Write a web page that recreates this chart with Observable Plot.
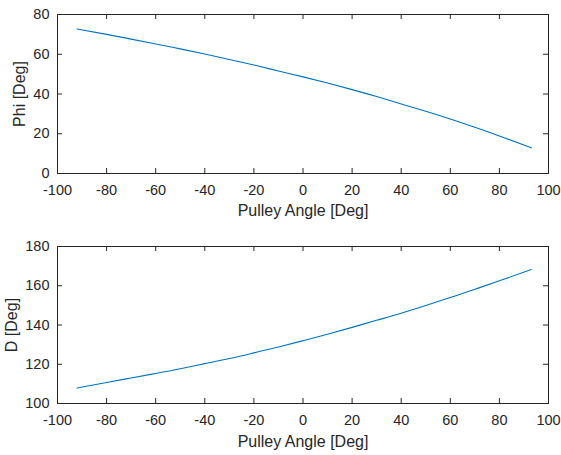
<!DOCTYPE html>
<html>
<head>
<meta charset="utf-8">
<script src="https://cdn.jsdelivr.net/npm/d3@7"></script>
<script src="https://cdn.jsdelivr.net/npm/@observablehq/plot@0.6"></script>
<style>
  html, body { margin: 0; padding: 0; background: #fff; }
  #chart svg { display: block; }
</style>
</head>
<body>
<div id="chart"></div>
<script>
const pulleyAngle = [-92, -80, -70, -60, -50, -40, -30, -20, -10, 0, 10, 20, 30, 40, 50, 60, 70, 80, 93];
const phi = [72.7, 70.0, 67.6, 65.2, 62.7, 60.1, 57.4, 54.6, 51.6, 48.6, 45.5, 42.2, 38.7, 35.0, 31.3, 27.4, 23.3, 18.9, 12.9];
const dAngle = [107.9, 110.7, 113.0, 115.3, 117.7, 120.3, 122.9, 125.8, 128.8, 132.0, 135.3, 138.8, 142.4, 146.0, 149.9, 154.0, 158.2, 162.5, 168.3];
const xTicks = [-100, -80, -60, -40, -20, 0, 20, 40, 60, 80, 100];
const phiTicks = [0, 20, 40, 60, 80];
const dTicks = [100, 120, 140, 160, 180];

const ink = "#262626";
const lineColor = "#0072BD";
const W = 561, ML = 57, MR = 13, TICK = 5;

function panel(yValues, yDomain, yTicks, yLabel, height, marginTop, marginBottom, yLabelOffset, xLabelOffset) {
  const data = pulleyAngle.map((x, i) => ({x, y: yValues[i]}));
  const fh = height - marginTop - marginBottom;
  const fw = W - ML - MR;
  return Plot.plot({
    width: W,
    height,
    marginTop,
    marginBottom,
    marginLeft: ML,
    marginRight: MR,
    style: {fontFamily: "'Liberation Sans', Arial, sans-serif", fontSize: "14.5px", color: ink, background: "#fff"},
    x: {domain: [-100, 100]},
    y: {domain: yDomain},
    marks: [
      Plot.axisX({anchor: "bottom", ticks: xTicks, tickSize: 0, tickPadding: 11, fontSize: 14.5,
        tickFormat: d => String(d),
        label: "Pulley Angle [Deg]", labelAnchor: "center", labelArrow: "none", labelOffset: xLabelOffset}),
      Plot.axisY({anchor: "left", ticks: yTicks, tickSize: 0, tickPadding: 8, fontSize: 14.5,
        tickFormat: d => String(d),
        label: yLabel, labelAnchor: "center", labelArrow: "none", labelOffset: yLabelOffset}),
      Plot.tickX(xTicks, {x: d => d, stroke: ink, insetTop: fh - TICK}),
      Plot.tickX(xTicks, {x: d => d, stroke: ink, insetBottom: fh - TICK}),
      Plot.tickY(yTicks, {y: d => d, stroke: ink, insetRight: fw - TICK}),
      Plot.tickY(yTicks, {y: d => d, stroke: ink, insetLeft: fw - TICK}),
      Plot.frame({stroke: ink, strokeWidth: 1}),
      Plot.line(data, {x: "x", y: "y", stroke: lineColor, strokeWidth: 1.1, curve: "natural"})
    ]
  });
}

const topPanel = panel(phi, [0, 80], phiTicks, "Phi [Deg]", 228, 14, 55, 44, 42);
const bottomPanel = panel(dAngle, [100, 180], dTicks, "D [Deg]", 227, 18, 52, 52, 43);
const root = document.getElementById("chart");
root.appendChild(topPanel);
root.appendChild(bottomPanel);
root.querySelectorAll("svg g[aria-label='x-axis label'] text, svg g[aria-label='y-axis label'] text").forEach(t => t.style.fontSize = "16px");
</script>
</body>
</html>
